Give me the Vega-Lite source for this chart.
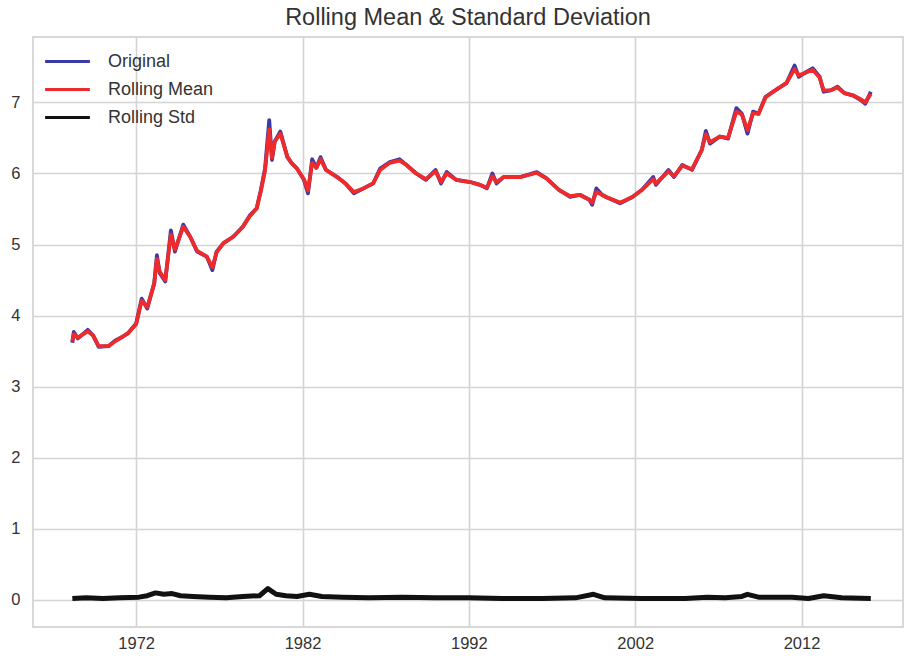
{
  "$schema": "https://vega.github.io/schema/vega-lite/v6.json",
  "width": 870,
  "height": 590,
  "autosize": {"type": "none"},
  "padding": {"left": 33, "top": 37, "right": 1, "bottom": 29},
  "background": "white",
  "config": {
    "font": "Liberation Sans",
    "view": {"stroke": "#cccccc", "strokeWidth": 1.5},
    "axis": {"domain": false, "ticks": false, "grid": true, "gridColor": "#d4d4d4", "gridWidth": 1.6, "labelFontSize": 16.5, "labelColor": "#333333", "labelFont": "Liberation Sans", "title": null}
  },
  "title": {"text": "Rolling Mean & Standard Deviation", "fontSize": 23.5, "fontWeight": "normal", "color": "#333333", "offset": 8, "font": "Liberation Sans"},
  "datasets": {
    "orig": [
      {"date": "1968-03-01", "value": 3.62}, {"date": "1968-04-01", "value": 3.77}, {"date": "1968-07-01", "value": 3.68},
      {"date": "1969-02-01", "value": 3.80}, {"date": "1969-06-01", "value": 3.72}, {"date": "1969-10-01", "value": 3.56},
      {"date": "1970-05-01", "value": 3.57}, {"date": "1970-10-01", "value": 3.65}, {"date": "1971-03-01", "value": 3.70},
      {"date": "1971-07-01", "value": 3.75}, {"date": "1972-01-01", "value": 3.89}, {"date": "1972-05-01", "value": 4.24},
      {"date": "1972-09-01", "value": 4.10}, {"date": "1973-02-01", "value": 4.46}, {"date": "1973-04-01", "value": 4.85},
      {"date": "1973-06-01", "value": 4.60}, {"date": "1973-10-01", "value": 4.48}, {"date": "1974-02-01", "value": 5.20},
      {"date": "1974-05-01", "value": 4.90}, {"date": "1974-11-01", "value": 5.28}, {"date": "1975-04-01", "value": 5.11},
      {"date": "1975-09-01", "value": 4.90}, {"date": "1976-04-01", "value": 4.83}, {"date": "1976-08-01", "value": 4.64},
      {"date": "1976-11-01", "value": 4.90}, {"date": "1977-04-01", "value": 5.02}, {"date": "1977-11-01", "value": 5.11},
      {"date": "1978-06-01", "value": 5.25}, {"date": "1978-11-01", "value": 5.41}, {"date": "1979-04-01", "value": 5.51},
      {"date": "1979-07-01", "value": 5.77}, {"date": "1979-10-01", "value": 6.07}, {"date": "1980-01-01", "value": 6.75},
      {"date": "1980-03-01", "value": 6.19}, {"date": "1980-05-01", "value": 6.45}, {"date": "1980-09-01", "value": 6.59},
      {"date": "1981-02-01", "value": 6.23}, {"date": "1981-05-01", "value": 6.15}, {"date": "1981-09-01", "value": 6.07},
      {"date": "1982-02-01", "value": 5.91}, {"date": "1982-05-01", "value": 5.72}, {"date": "1982-08-01", "value": 6.20},
      {"date": "1982-11-01", "value": 6.08}, {"date": "1983-02-01", "value": 6.23}, {"date": "1983-06-01", "value": 6.05},
      {"date": "1984-02-01", "value": 5.95}, {"date": "1984-08-01", "value": 5.86}, {"date": "1985-02-01", "value": 5.72},
      {"date": "1985-09-01", "value": 5.79}, {"date": "1986-04-01", "value": 5.86}, {"date": "1986-09-01", "value": 6.07},
      {"date": "1987-04-01", "value": 6.16}, {"date": "1987-11-01", "value": 6.20}, {"date": "1988-04-01", "value": 6.12},
      {"date": "1988-11-01", "value": 6.00}, {"date": "1989-06-01", "value": 5.91}, {"date": "1990-01-01", "value": 6.05},
      {"date": "1990-05-01", "value": 5.86}, {"date": "1990-09-01", "value": 6.02}, {"date": "1991-04-01", "value": 5.91},
      {"date": "1992-02-01", "value": 5.88}, {"date": "1992-09-01", "value": 5.84}, {"date": "1993-02-01", "value": 5.79},
      {"date": "1993-06-01", "value": 6.00}, {"date": "1993-09-01", "value": 5.86}, {"date": "1994-02-01", "value": 5.95},
      {"date": "1995-02-01", "value": 5.95}, {"date": "1996-02-01", "value": 6.02}, {"date": "1996-09-01", "value": 5.93},
      {"date": "1997-06-01", "value": 5.77}, {"date": "1998-02-01", "value": 5.67}, {"date": "1998-09-01", "value": 5.70},
      {"date": "1999-04-01", "value": 5.63}, {"date": "1999-06-01", "value": 5.56}, {"date": "1999-09-01", "value": 5.79},
      {"date": "2000-01-01", "value": 5.70}, {"date": "2000-04-01", "value": 5.67}, {"date": "2001-02-01", "value": 5.58},
      {"date": "2001-11-01", "value": 5.67}, {"date": "2002-06-01", "value": 5.77}, {"date": "2003-02-01", "value": 5.95},
      {"date": "2003-04-01", "value": 5.84}, {"date": "2004-01-01", "value": 6.05}, {"date": "2004-05-01", "value": 5.95},
      {"date": "2004-11-01", "value": 6.12}, {"date": "2005-06-01", "value": 6.05}, {"date": "2006-01-01", "value": 6.33},
      {"date": "2006-04-01", "value": 6.60}, {"date": "2006-07-01", "value": 6.42}, {"date": "2007-02-01", "value": 6.52},
      {"date": "2007-08-01", "value": 6.49}, {"date": "2008-02-01", "value": 6.92}, {"date": "2008-06-01", "value": 6.84},
      {"date": "2008-10-01", "value": 6.56}, {"date": "2009-02-01", "value": 6.87}, {"date": "2009-06-01", "value": 6.84},
      {"date": "2009-11-01", "value": 7.08}, {"date": "2010-06-01", "value": 7.17}, {"date": "2011-02-01", "value": 7.27},
      {"date": "2011-08-01", "value": 7.52}, {"date": "2011-11-01", "value": 7.36}, {"date": "2012-03-01", "value": 7.41},
      {"date": "2012-09-01", "value": 7.48}, {"date": "2013-02-01", "value": 7.36}, {"date": "2013-05-01", "value": 7.15},
      {"date": "2013-10-01", "value": 7.17}, {"date": "2014-03-01", "value": 7.22}, {"date": "2014-08-01", "value": 7.13},
      {"date": "2015-02-01", "value": 7.10}, {"date": "2015-08-01", "value": 7.03}, {"date": "2015-11-01", "value": 6.98},
      {"date": "2016-03-01", "value": 7.15}
    ],
    "mean": [
      {"date": "1968-03-01", "value": 3.64}, {"date": "1968-04-01", "value": 3.74}, {"date": "1968-07-01", "value": 3.69},
      {"date": "1969-02-01", "value": 3.78}, {"date": "1969-06-01", "value": 3.72}, {"date": "1969-10-01", "value": 3.57},
      {"date": "1970-05-01", "value": 3.57}, {"date": "1970-10-01", "value": 3.64}, {"date": "1971-03-01", "value": 3.70},
      {"date": "1971-07-01", "value": 3.75}, {"date": "1972-01-01", "value": 3.88}, {"date": "1972-05-01", "value": 4.21},
      {"date": "1972-09-01", "value": 4.12}, {"date": "1973-02-01", "value": 4.45}, {"date": "1973-04-01", "value": 4.80},
      {"date": "1973-06-01", "value": 4.62}, {"date": "1973-10-01", "value": 4.50}, {"date": "1974-02-01", "value": 5.14},
      {"date": "1974-05-01", "value": 4.93}, {"date": "1974-11-01", "value": 5.25}, {"date": "1975-04-01", "value": 5.11},
      {"date": "1975-09-01", "value": 4.91}, {"date": "1976-04-01", "value": 4.83}, {"date": "1976-08-01", "value": 4.68},
      {"date": "1976-11-01", "value": 4.89}, {"date": "1977-04-01", "value": 5.02}, {"date": "1977-11-01", "value": 5.11},
      {"date": "1978-06-01", "value": 5.25}, {"date": "1978-11-01", "value": 5.40}, {"date": "1979-04-01", "value": 5.51},
      {"date": "1979-07-01", "value": 5.75}, {"date": "1979-10-01", "value": 6.04}, {"date": "1980-01-01", "value": 6.62},
      {"date": "1980-03-01", "value": 6.22}, {"date": "1980-05-01", "value": 6.45}, {"date": "1980-09-01", "value": 6.56},
      {"date": "1981-02-01", "value": 6.24}, {"date": "1981-05-01", "value": 6.15}, {"date": "1981-09-01", "value": 6.07},
      {"date": "1982-02-01", "value": 5.92}, {"date": "1982-05-01", "value": 5.76}, {"date": "1982-08-01", "value": 6.15},
      {"date": "1982-11-01", "value": 6.08}, {"date": "1983-02-01", "value": 6.20}, {"date": "1983-06-01", "value": 6.05},
      {"date": "1984-02-01", "value": 5.95}, {"date": "1984-08-01", "value": 5.86}, {"date": "1985-02-01", "value": 5.74},
      {"date": "1985-09-01", "value": 5.79}, {"date": "1986-04-01", "value": 5.86}, {"date": "1986-09-01", "value": 6.05},
      {"date": "1987-04-01", "value": 6.15}, {"date": "1987-11-01", "value": 6.18}, {"date": "1988-04-01", "value": 6.12},
      {"date": "1988-11-01", "value": 6.00}, {"date": "1989-06-01", "value": 5.92}, {"date": "1990-01-01", "value": 6.03},
      {"date": "1990-05-01", "value": 5.88}, {"date": "1990-09-01", "value": 6.00}, {"date": "1991-04-01", "value": 5.91},
      {"date": "1992-02-01", "value": 5.88}, {"date": "1992-09-01", "value": 5.84}, {"date": "1993-02-01", "value": 5.80},
      {"date": "1993-06-01", "value": 5.96}, {"date": "1993-09-01", "value": 5.88}, {"date": "1994-02-01", "value": 5.95},
      {"date": "1995-02-01", "value": 5.95}, {"date": "1996-02-01", "value": 6.01}, {"date": "1996-09-01", "value": 5.93},
      {"date": "1997-06-01", "value": 5.77}, {"date": "1998-02-01", "value": 5.68}, {"date": "1998-09-01", "value": 5.70},
      {"date": "1999-04-01", "value": 5.63}, {"date": "1999-06-01", "value": 5.59}, {"date": "1999-09-01", "value": 5.74},
      {"date": "2000-01-01", "value": 5.70}, {"date": "2000-04-01", "value": 5.67}, {"date": "2001-02-01", "value": 5.59},
      {"date": "2001-11-01", "value": 5.67}, {"date": "2002-06-01", "value": 5.77}, {"date": "2003-02-01", "value": 5.92},
      {"date": "2003-04-01", "value": 5.86}, {"date": "2004-01-01", "value": 6.03}, {"date": "2004-05-01", "value": 5.96},
      {"date": "2004-11-01", "value": 6.11}, {"date": "2005-06-01", "value": 6.06}, {"date": "2006-01-01", "value": 6.33},
      {"date": "2006-04-01", "value": 6.55}, {"date": "2006-07-01", "value": 6.44}, {"date": "2007-02-01", "value": 6.52},
      {"date": "2007-08-01", "value": 6.50}, {"date": "2008-02-01", "value": 6.87}, {"date": "2008-06-01", "value": 6.83},
      {"date": "2008-10-01", "value": 6.61}, {"date": "2009-02-01", "value": 6.85}, {"date": "2009-06-01", "value": 6.84},
      {"date": "2009-11-01", "value": 7.07}, {"date": "2010-06-01", "value": 7.17}, {"date": "2011-02-01", "value": 7.27},
      {"date": "2011-08-01", "value": 7.47}, {"date": "2011-11-01", "value": 7.38}, {"date": "2012-03-01", "value": 7.41},
      {"date": "2012-09-01", "value": 7.46}, {"date": "2013-02-01", "value": 7.35}, {"date": "2013-05-01", "value": 7.17},
      {"date": "2013-10-01", "value": 7.17}, {"date": "2014-03-01", "value": 7.21}, {"date": "2014-08-01", "value": 7.13},
      {"date": "2015-02-01", "value": 7.10}, {"date": "2015-08-01", "value": 7.04}, {"date": "2015-11-01", "value": 7.00},
      {"date": "2016-03-01", "value": 7.12}
    ],
    "std": [
      {"date": "1968-03-01", "value": 0.02}, {"date": "1969-01-01", "value": 0.03}, {"date": "1970-01-01", "value": 0.02},
      {"date": "1971-01-01", "value": 0.03}, {"date": "1972-03-01", "value": 0.04}, {"date": "1972-09-01", "value": 0.06},
      {"date": "1973-03-01", "value": 0.10}, {"date": "1973-09-01", "value": 0.08}, {"date": "1974-03-01", "value": 0.09},
      {"date": "1974-09-01", "value": 0.06}, {"date": "1975-06-01", "value": 0.05}, {"date": "1976-06-01", "value": 0.04},
      {"date": "1977-06-01", "value": 0.03}, {"date": "1978-06-01", "value": 0.05}, {"date": "1979-06-01", "value": 0.06},
      {"date": "1979-12-01", "value": 0.16}, {"date": "1980-06-01", "value": 0.08}, {"date": "1981-01-01", "value": 0.06},
      {"date": "1981-09-01", "value": 0.05}, {"date": "1982-06-01", "value": 0.08}, {"date": "1983-03-01", "value": 0.05},
      {"date": "1984-06-01", "value": 0.04}, {"date": "1986-01-01", "value": 0.03}, {"date": "1988-01-01", "value": 0.04},
      {"date": "1990-01-01", "value": 0.03}, {"date": "1992-01-01", "value": 0.03}, {"date": "1994-01-01", "value": 0.02},
      {"date": "1996-06-01", "value": 0.02}, {"date": "1998-06-01", "value": 0.03}, {"date": "1999-07-01", "value": 0.08},
      {"date": "2000-03-01", "value": 0.03}, {"date": "2002-06-01", "value": 0.02}, {"date": "2005-01-01", "value": 0.02},
      {"date": "2006-05-01", "value": 0.04}, {"date": "2007-06-01", "value": 0.03}, {"date": "2008-06-01", "value": 0.05},
      {"date": "2008-10-01", "value": 0.08}, {"date": "2009-06-01", "value": 0.04}, {"date": "2011-06-01", "value": 0.04},
      {"date": "2012-06-01", "value": 0.02}, {"date": "2013-05-01", "value": 0.06}, {"date": "2014-06-01", "value": 0.03},
      {"date": "2016-03-01", "value": 0.02}
    ]
  },
  "encoding": {
    "x": {"field": "date", "type": "temporal",
      "scale": {"domain": [{"year": 1965, "month": 10, "date": 19}, {"year": 2018, "month": 2, "date": 6}], "nice": false},
      "axis": {"values": [{"year": 1972, "month": 1, "date": 1}, {"year": 1982, "month": 1, "date": 1}, {"year": 1992, "month": 1, "date": 1}, {"year": 2002, "month": 1, "date": 1}, {"year": 2012, "month": 1, "date": 1}], "format": "%Y", "labelPadding": 8, "labelFlush": false}},
    "y": {"field": "value", "type": "quantitative",
      "scale": {"domain": [-0.38, 7.92], "nice": false, "zero": false},
      "axis": {"values": [0, 1, 2, 3, 4, 5, 6, 7], "labelPadding": 13}}
  },
  "layer": [
    {"data": {"name": "orig"}, "mark": {"type": "line", "strokeWidth": 3.8, "strokeJoin": "round"},
     "encoding": {"color": {"datum": "Original", "type": "nominal",
       "scale": {"domain": ["Original", "Rolling Mean", "Rolling Std"], "range": ["#3a3aa6", "#ee2a2a", "#111111"]},
       "legend": {"title": null, "orient": "none", "legendX": 19, "legendY": 9, "symbolType": "M-1.6,0H1.6", "symbolSize": 784, "symbolStrokeWidth": 3, "labelFontSize": 18, "labelColor": "#333333", "labelOffset": 25, "rowPadding": 3, "padding": 0}}}},
    {"data": {"name": "mean"}, "mark": {"type": "line", "strokeWidth": 3.8, "strokeJoin": "round"},
     "encoding": {"color": {"datum": "Rolling Mean", "type": "nominal"}}},
    {"data": {"name": "std"}, "mark": {"type": "line", "strokeWidth": 5, "strokeJoin": "round"},
     "encoding": {"color": {"datum": "Rolling Std", "type": "nominal"}}}
  ]
}
